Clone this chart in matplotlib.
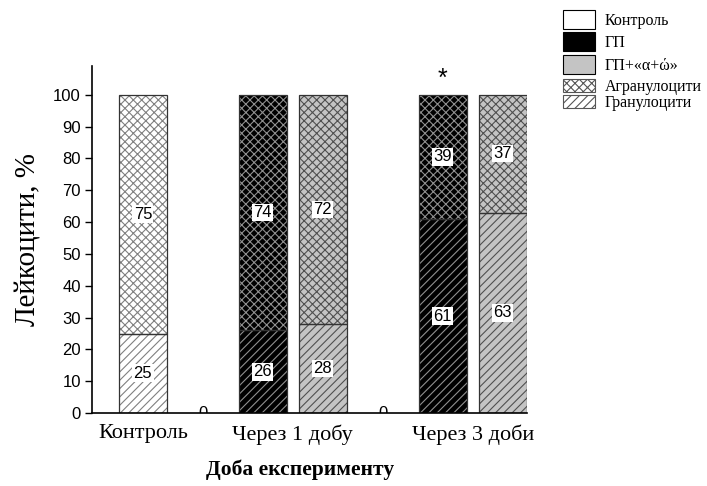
import matplotlib.pyplot as plt
from matplotlib.patches import Patch
import numpy as np

# data
groups = ["Контроль", "Через 1 добу", "Через 3 доби"]
group_pos = [0, 2.5, 5.5]
series = ["Контроль", "ГП", "ГП+«α+ώ»"]
bar_series = ["Контроль", None, "ГП", "ГП+«α+ώ»", None, "ГП", "ГП+«α+ώ»"]
granulocytes = [25, 0, 26, 28, 0, 61, 63]
agranulocytes = [75, 0, 74, 72, 0, 39, 37]
parts = ["Агранулоцити", "Гранулоцити"]

fill = {"Контроль": "white", "ГП": "black", "ГП+«α+ώ»": "#c4c4c4"}
hatch_col = {"Контроль": "#808080", "ГП": "#909090", "ГП+«α+ώ»": "#505050"}

SERIF = ["Liberation Serif", "DejaVu Serif"]
SANS = ["Liberation Sans", "DejaVu Sans"]
plt.rcParams["hatch.linewidth"] = 0.8

fig = plt.figure(figsize=(7.07, 4.86), dpi=100)
ax = fig.add_axes([0.130, 0.150, 0.615, 0.714])

x = np.arange(len(bar_series))
w = 0.8
for i, s in enumerate(bar_series):
    if s is None:
        # empty slot, only a "0" label half hidden by the axis line
        t = ax.text(x[i], 0, "0", ha="center", va="center", fontsize=12,
                    family=SANS, zorder=1)
        t.set_clip_box(ax.bbox)
        t.set_clip_on(True)
        continue
    g, a = granulocytes[i], agranulocytes[i]
    ax.bar(x[i], g, w, color=fill[s], edgecolor=hatch_col[s], hatch="////",
           linewidth=0, zorder=2)
    ax.bar(x[i], a, w, bottom=g, color=fill[s], edgecolor=hatch_col[s],
           hatch="xxxx", linewidth=0, zorder=2)
    ax.bar(x[i], g, w, fill=False, edgecolor="#333333", linewidth=0.9, zorder=3)
    ax.bar(x[i], a, w, bottom=g, fill=False, edgecolor="#333333", linewidth=0.9, zorder=3)
    for val, y in [(g, g / 2), (a, g + a / 2)]:
        ax.text(x[i], y, str(val), ha="center", va="center", fontsize=12,
                family=SANS, zorder=4,
                bbox=dict(facecolor="white", edgecolor="none", pad=1.0))

# significance mark
ax.text(x[5], 105, "*", ha="center", va="center", fontsize=18, family=SANS)

ax.set_xlim(-0.85, 6.4)
ax.set_ylim(0, 109)
ax.set_yticks(np.arange(0, 101, 10))
ax.tick_params(axis="y", direction="out", length=5, width=1, labelsize=12, pad=3)
for lab in ax.get_yticklabels():
    lab.set_family(SANS)
ax.set_xticks(group_pos)
ax.set_xticklabels(groups, family=SERIF, fontsize=16)
ax.tick_params(axis="x", length=0, pad=8)
ax.spines["top"].set_visible(False)
ax.spines["right"].set_visible(False)
ax.spines["left"].set_linewidth(1.2)
ax.spines["bottom"].set_linewidth(1.2)
ax.spines["bottom"].set_zorder(5)

ax.set_ylabel("Лейкоцити, %", family=SERIF, fontsize=21, labelpad=8)
ax.set_xlabel("Доба експерименту", family=SERIF, fontsize=15.5, fontweight="bold")
ax.xaxis.set_label_coords(0.478, -0.135)

h1 = [Patch(facecolor=fill[s], edgecolor="black", linewidth=0.8) for s in series]
h2 = [Patch(facecolor="white", edgecolor="#555555", hatch="xxxx", linewidth=0.8),
      Patch(facecolor="white", edgecolor="#555555", hatch="////", linewidth=0.8)]
fig.legend(h1, series, loc="upper left", bbox_to_anchor=(563 / 707, 1 - 10 / 486),
           frameon=False, prop={"family": SERIF, "size": 11.5},
           handlelength=2.0, handleheight=1.45, labelspacing=0.22,
           handletextpad=0.6, borderaxespad=0, borderpad=0)
fig.legend(h2, parts, loc="upper left", bbox_to_anchor=(563 / 707, 1 - 79 / 486),
           frameon=False, prop={"family": SERIF, "size": 11.5},
           handlelength=2.0, handleheight=0.85, labelspacing=0.0,
           handletextpad=0.6, borderaxespad=0, borderpad=0)

fig.savefig("out.png", dpi=100)
